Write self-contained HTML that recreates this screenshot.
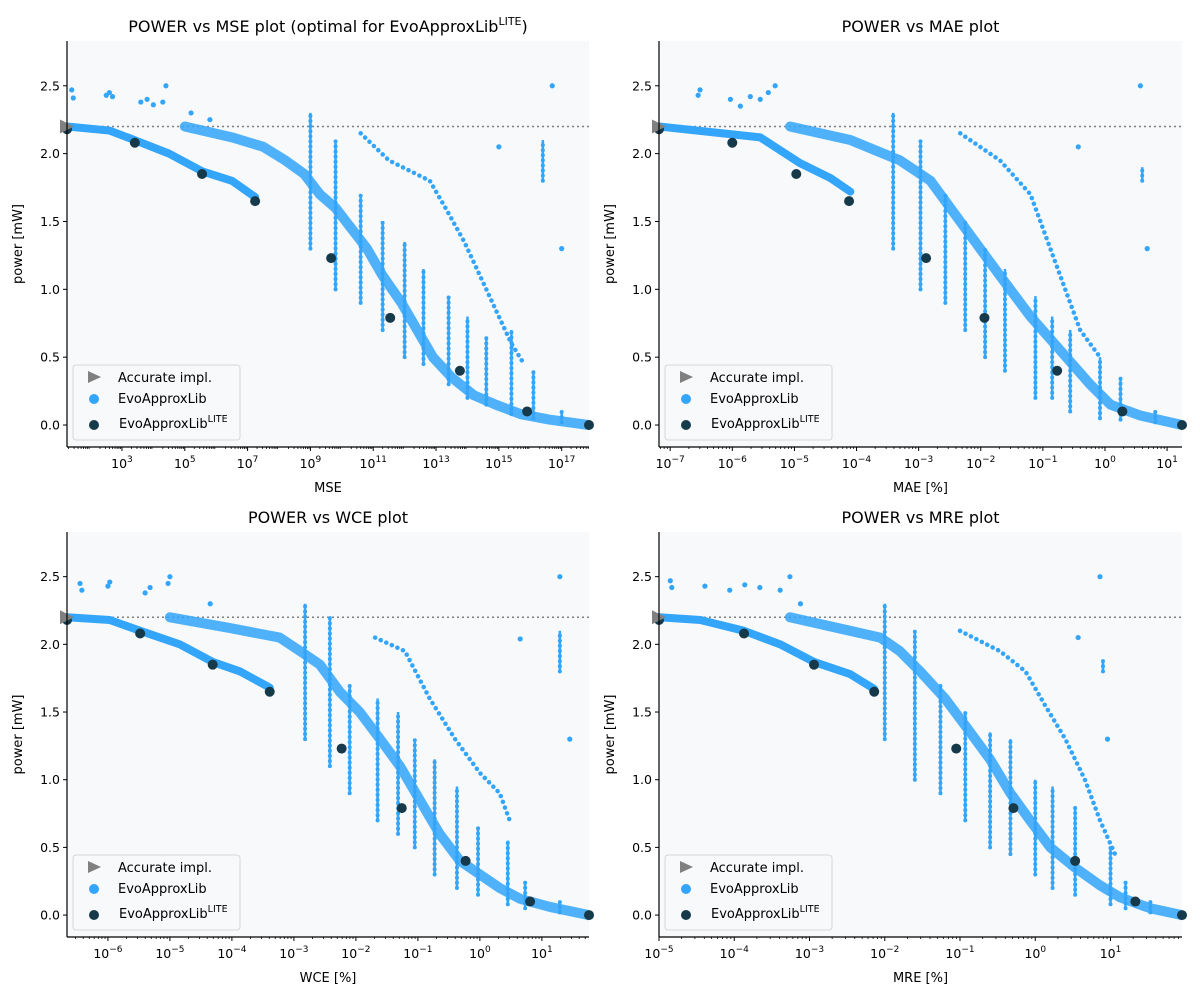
<!DOCTYPE html>
<html><head><meta charset="utf-8">
<style>
html,body{margin:0;padding:0;background:#fff;}
svg{display:block;font-family:"DejaVu Sans","Liberation Sans",sans-serif;}
</style></head>
<body>
<svg id="fig" width="1200" height="1000" viewBox="0 0 1200 1000"></svg>
<script>
// ---------- DATA (x values stored as log10 exponents, power in mW) ----------
const accuratePower = 2.2;
// MSE plot
const mseLite = [[1.25,2.18],[3.41,2.08],[5.55,1.85],[7.24,1.65],[9.66,1.23],[11.54,0.79],[13.76,0.40],[15.9,0.10],[17.87,0.0]];
const mseLowerBand = [[1.25,2.2],[2.6,2.17],[3.4,2.1],[4.5,2.0],[5.55,1.87],[6.5,1.8],[7.24,1.68]];
const mseUpperBand = [[5.0,2.2],[6.5,2.12],[7.5,2.05],[8.2,1.95],[8.8,1.85],[9.3,1.7],[9.8,1.6],[10.3,1.45],[10.8,1.3],[11.3,1.1],[11.9,0.9],[12.4,0.7],[12.9,0.5],[13.5,0.35],[14.2,0.22],[14.9,0.15],[15.7,0.08],[16.6,0.04],[17.87,0.0]];
const mseBranch = [[10.6,2.15],[11.5,1.95],[12.8,1.8],[13.3,1.6],[13.9,1.35],[14.5,1.05],[15.0,0.8],[15.4,0.6],[15.8,0.45]];
const mseStreaks = [[9.0,1.3,2.3],[9.8,1.0,2.1],[10.6,0.9,1.7],[11.3,0.7,1.5],[12.0,0.5,1.35],[12.6,0.45,1.15],[13.4,0.3,0.95],[14.0,0.2,0.8],[14.6,0.15,0.65],[15.4,0.08,0.7],[16.1,0.05,0.4],[17.0,0.02,0.1],[16.4,1.8,2.1]];
const mseScatter = [[1.4,2.47],[1.45,2.41],[2.5,2.43],[2.6,2.45],[2.7,2.42],[3.6,2.38],[3.8,2.4],[4.0,2.36],[4.3,2.38],[4.4,2.5],[5.2,2.3],[5.8,2.25],[16.7,2.5],[17.0,1.3],[15.0,2.05]];
// MAE plot
const maeLite = [[-7.18,2.18],[-6.0,2.08],[-4.97,1.85],[-4.12,1.65],[-2.88,1.23],[-1.94,0.79],[-0.77,0.40],[0.28,0.10],[1.24,0.0]];
const maeLowerBand = [[-7.18,2.2],[-5.55,2.12],[-4.91,1.93],[-4.42,1.82],[-4.1,1.72]];
const maeUpperBand = [[-5.07,2.2],[-4.1,2.1],[-3.3,1.95],[-2.81,1.8],[-2.49,1.6],[-2.17,1.4],[-1.69,1.1],[-1.2,0.8],[-0.72,0.55],[-0.24,0.3],[0.09,0.15],[0.57,0.07],[1.24,0.0]];
const maeBranch = [[-2.33,2.15],[-1.69,1.95],[-1.2,1.7],[-0.96,1.4],[-0.72,1.1],[-0.4,0.7],[-0.08,0.5]];
const maeStreaks = [[-3.41,1.3,2.3],[-2.97,1.0,2.1],[-2.57,0.9,1.7],[-2.25,0.7,1.5],[-1.93,0.5,1.3],[-1.61,0.4,1.15],[-1.12,0.2,0.95],[-0.85,0.2,0.8],[-0.56,0.1,0.7],[-0.08,0.05,0.5],[0.25,0.04,0.35],[0.81,0.02,0.1],[0.6,1.8,1.9]];
const maeScatter = [[-6.55,2.43],[-6.52,2.47],[-6.03,2.4],[-5.87,2.35],[-5.71,2.42],[-5.55,2.4],[-5.42,2.45],[-5.31,2.5],[0.57,2.5],[0.68,1.3],[-0.43,2.05]];
// WCE plot
const wceLite = [[-6.66,2.18],[-5.48,2.08],[-4.31,1.85],[-3.39,1.65],[-2.23,1.23],[-1.26,0.79],[-0.23,0.40],[0.81,0.10],[1.76,0.0]];
const wceLowerBand = [[-6.66,2.2],[-5.97,2.18],[-5.48,2.1],[-4.84,2.0],[-4.31,1.87],[-3.87,1.8],[-3.39,1.68]];
const wceUpperBand = [[-5.0,2.2],[-4.03,2.12],[-3.23,2.05],[-2.9,1.95],[-2.58,1.85],[-2.26,1.65],[-1.94,1.5],[-1.61,1.3],[-1.29,1.1],[-0.97,0.85],[-0.65,0.6],[-0.32,0.4],[0.0,0.3],[0.32,0.2],[0.65,0.12],[1.13,0.06],[1.76,0.0]];
const wceBranch = [[-1.69,2.05],[-1.21,1.95],[-0.81,1.6],[-0.4,1.3],[0.0,1.05],[0.32,0.9],[0.48,0.7]];
const wceStreaks = [[-2.82,1.3,2.3],[-2.42,1.1,2.2],[-2.1,0.9,1.7],[-1.65,0.7,1.6],[-1.32,0.6,1.5],[-1.05,0.5,1.3],[-0.73,0.3,1.15],[-0.37,0.2,0.95],[-0.03,0.15,0.65],[0.45,0.08,0.55],[0.73,0.05,0.25],[1.29,0.02,0.1],[1.29,1.8,2.1]];
const wceScatter = [[-6.45,2.45],[-6.42,2.4],[-6.0,2.43],[-5.97,2.46],[-5.4,2.38],[-5.32,2.42],[-5.03,2.45],[-5.0,2.5],[-4.35,2.3],[0.65,2.04],[1.29,2.5],[1.45,1.3]];
// MRE plot
const mreLite = [[-5.0,2.18],[-3.87,2.08],[-2.94,1.85],[-2.14,1.65],[-1.05,1.23],[-0.29,0.79],[0.53,0.40],[1.33,0.10],[1.95,0.0]];
const mreLowerBand = [[-5.0,2.2],[-4.45,2.18],[-3.87,2.1],[-3.39,2.0],[-2.94,1.87],[-2.46,1.78],[-2.14,1.67]];
const mreUpperBand = [[-3.26,2.2],[-2.46,2.1],[-2.06,2.05],[-1.8,1.95],[-1.53,1.8],[-1.2,1.6],[-0.93,1.4],[-0.6,1.15],[-0.33,0.9],[-0.07,0.7],[0.2,0.5],[0.53,0.35],[0.86,0.22],[1.13,0.13],[1.53,0.05],[1.95,0.0]];
const mreBranch = [[-1.0,2.1],[-0.47,1.95],[-0.13,1.8],[0.13,1.55],[0.4,1.3],[0.66,1.0],[0.86,0.7],[1.06,0.45]];
const mreStreaks = [[-2.0,1.3,2.3],[-1.6,1.0,2.1],[-1.26,0.9,1.7],[-0.93,0.7,1.5],[-0.6,0.5,1.35],[-0.33,0.45,1.3],[0.0,0.3,1.0],[0.23,0.2,0.95],[0.53,0.15,0.8],[1.0,0.08,0.5],[1.2,0.05,0.25],[1.53,0.02,0.1],[0.9,1.8,1.88]];
const mreScatter = [[-4.85,2.47],[-4.83,2.42],[-4.39,2.43],[-4.06,2.4],[-3.86,2.44],[-3.66,2.42],[-3.39,2.4],[-3.26,2.5],[-3.12,2.3],[0.86,2.5],[0.96,1.3],[0.57,2.05]];
// tick exponents
const mseTicks = [3,5,7,9,11,13,15,17];
const maeTicks = [-7,-6,-5,-4,-3,-2,-1,0,1];
const wceTicks = [-6,-5,-4,-3,-2,-1,0,1];
const mreTicks = [-5,-4,-3,-2,-1,0,1];
const yTicks = [0,0.5,1.0,1.5,2.0,2.5];

// ---------- LAYOUT ----------
const panels = [
 {key:'mse',x0:67,x1:589,y0:41,y1:447,emin:1.25,emax:17.87,xlabel:'MSE',title:'POWER vs MSE plot (optimal for EvoApproxLib',titleSup:'LITE',titleEnd:')',lite:mseLite,low:mseLowerBand,up:mseUpperBand,br:mseBranch,st:mseStreaks,sc:mseScatter,ticks:mseTicks},
 {key:'mae',x0:659,x1:1182,y0:41,y1:447,emin:-7.18,emax:1.24,xlabel:'MAE [%]',title:'POWER vs MAE plot',lite:maeLite,low:maeLowerBand,up:maeUpperBand,br:maeBranch,st:maeStreaks,sc:maeScatter,ticks:maeTicks},
 {key:'wce',x0:67,x1:589,y0:532,y1:937,emin:-6.66,emax:1.76,xlabel:'WCE [%]',title:'POWER vs WCE plot',lite:wceLite,low:wceLowerBand,up:wceUpperBand,br:wceBranch,st:wceStreaks,sc:wceScatter,ticks:wceTicks},
 {key:'mre',x0:659,x1:1182,y0:532,y1:937,emin:-5.0,emax:1.95,xlabel:'MRE [%]',title:'POWER vs MRE plot',lite:mreLite,low:mreLowerBand,up:mreUpperBand,br:mreBranch,st:mreStreaks,sc:mreScatter,ticks:mreTicks}
];
const YMIN=-0.162, YMAX=2.83;
const BLUE='#33a5fa', DARK='#173a4a';
const NS='http://www.w3.org/2000/svg';
const svg=document.getElementById('fig');
function mk(tag,attrs,parent){const e=document.createElementNS(NS,tag);for(const k in attrs)e.setAttribute(k,attrs[k]);(parent||svg).appendChild(e);return e;}

panels.forEach(p=>{
  const xs=e=>p.x0+(e-p.emin)/(p.emax-p.emin)*(p.x1-p.x0);
  const ys=v=>p.y1-(v-YMIN)/(YMAX-YMIN)*(p.y1-p.y0);
  const g=mk('g',{});
  
  
  const bg=mk('rect',{x:p.x0,y:p.y0,width:p.x1-p.x0,height:p.y1-p.y0,fill:'#f8f9fb'},g);
  
  
  const clipId='clip-'+p.key;
  const cp=mk('clipPath',{id:clipId},g);
  mk('rect',{x:p.x0,y:p.y0,width:p.x1-p.x0,height:p.y1-p.y0},cp);
  const data=mk('g',{'clip-path':'url(#'+clipId+')'},g);
  
  
  const al=mk('line',{x1:p.x0,x2:p.x1,y1:ys(accuratePower),y2:ys(accuratePower),stroke:'#808080','stroke-width':1.5,'stroke-dasharray':'2,3'},data);
  
  
  p.st.forEach(s=>{
    const l=mk('line',{x1:xs(s[0]),x2:xs(s[0]),y1:ys(s[1]),y2:ys(s[2]),stroke:BLUE,'stroke-width':4,'stroke-linecap':'round','stroke-dasharray':'0.1,5'},data);
    
    
    const l2=mk('line',{x1:xs(s[0]),x2:xs(s[0]),y1:ys(s[1]),y2:ys(s[2]),stroke:BLUE,'stroke-width':2.5},data);
    
    
  });
  [[p.low,8,'none',1],[p.up,10,'none',0.85],[p.br,4.5,'0.1,6',1]].forEach(([arr,w,da,op])=>{
    const pl=mk('polyline',{points:arr.map(d=>xs(d[0])+','+ys(d[1])).join(' '),fill:'none',stroke:BLUE,'stroke-width':w,'stroke-linecap':'round','stroke-linejoin':'round','stroke-dasharray':da,opacity:op},data);
    
    
  });
  p.sc.forEach(d=>{
    const c=mk('circle',{cx:xs(d[0]),cy:ys(d[1]),r:2.6,fill:BLUE},data);
    
    
  });
  p.lite.forEach(d=>{
    const c=mk('circle',{cx:xs(d[0]),cy:ys(d[1]),r:5,fill:DARK},g);
    
    
  });
  const ay=ys(accuratePower);
  const tri=mk('polygon',{points:(p.x0-7)+','+(ay-7)+' '+(p.x0+7)+','+ay+' '+(p.x0-7)+','+(ay+7),fill:'#808080'},g);
  
  
  mk('line',{x1:p.x0,x2:p.x0,y1:p.y0,y2:p.y1,stroke:'#000','stroke-width':1.2},g);
  mk('line',{x1:p.x0,x2:p.x1,y1:p.y1,y2:p.y1,stroke:'#000','stroke-width':1.2},g);
  yTicks.forEach(v=>{
    const y=ys(v);
    mk('line',{x1:p.x0-4,x2:p.x0,y1:y,y2:y,stroke:'#000'},g);
    const t=mk('text',{x:p.x0-7,y:y+4.5,'text-anchor':'end','font-size':12.5,fill:'#000'},g);
    t.textContent=v.toFixed(1);
    
    
  });
  for(let d=Math.floor(p.emin);d<=Math.ceil(p.emax);d++){
    for(let m=2;m<=9;m++){
      const e=d+Math.log10(m);
      if(e<p.emin||e>p.emax)continue;
      mk('line',{x1:xs(e),x2:xs(e),y1:p.y1,y2:p.y1+2,stroke:'#000','stroke-width':0.8},g);
    }
  }
  p.ticks.forEach(e=>{
    const x=xs(e);
    mk('line',{x1:x,x2:x,y1:p.y1,y2:p.y1+4,stroke:'#000'},g);
    const t=mk('text',{x:x,y:p.y1+21,'text-anchor':'middle','font-size':12.5,fill:'#000'},g);
    
    
    const a=mk('tspan',{},t);a.textContent='10';
    const b=mk('tspan',{dy:-6,'font-size':9},t);b.textContent=(e<0?'\u2212'+(-e):''+e);
  });
  const xl=mk('text',{x:(p.x0+p.x1)/2,y:p.y1+45,'text-anchor':'middle','font-size':13,fill:'#000'},g);
  xl.textContent=p.xlabel;
  
  
  const yl=mk('text',{x:0,y:0,transform:'translate('+(p.x0-45)+','+((p.y0+p.y1)/2)+') rotate(-90)','text-anchor':'middle','font-size':13,fill:'#000'},g);
  yl.textContent='power [mW]';
  
  
  const tt=mk('text',{x:(p.x0+p.x1)/2,y:p.y0-9,'text-anchor':'middle','font-size':16,fill:'#000'},g);
  
  
  const t1=mk('tspan',{},tt);t1.textContent=p.title;
  if(p.titleSup){const t2=mk('tspan',{dy:-7,'font-size':11},tt);t2.textContent=p.titleSup;const t3=mk('tspan',{dy:7},tt);t3.textContent=p.titleEnd;}
  const lg=mk('g',{},g);
  
  
  const lx=p.x0+6, ly=p.y1-82;
  mk('rect',{x:lx,y:ly,width:167,height:75,rx:3,fill:'#f8f9fb',stroke:'#d6d6d6'},lg);
  mk('polygon',{points:(lx+15)+','+(ly+6)+' '+(lx+28)+','+(ly+12)+' '+(lx+15)+','+(ly+18),fill:'#808080'},lg);
  mk('circle',{cx:lx+21,cy:ly+34,r:5,fill:BLUE},lg);
  mk('circle',{cx:lx+21,cy:ly+60,r:5,fill:DARK},lg);
  const e1=mk('text',{x:lx+45,y:ly+17,'font-size':13},lg);e1.textContent='Accurate impl.';
  
  
  const e2=mk('text',{x:lx+45,y:ly+38,'font-size':13},lg);e2.textContent='EvoApproxLib';
  
  
  const e3=mk('text',{x:lx+46,y:ly+63,'font-size':13},lg);
  
  
  const s1=mk('tspan',{},e3);s1.textContent='EvoApproxLib';
  const s2=mk('tspan',{dy:-6,'font-size':9.5},e3);s2.textContent='LITE';
});
</script>
</body></html>
